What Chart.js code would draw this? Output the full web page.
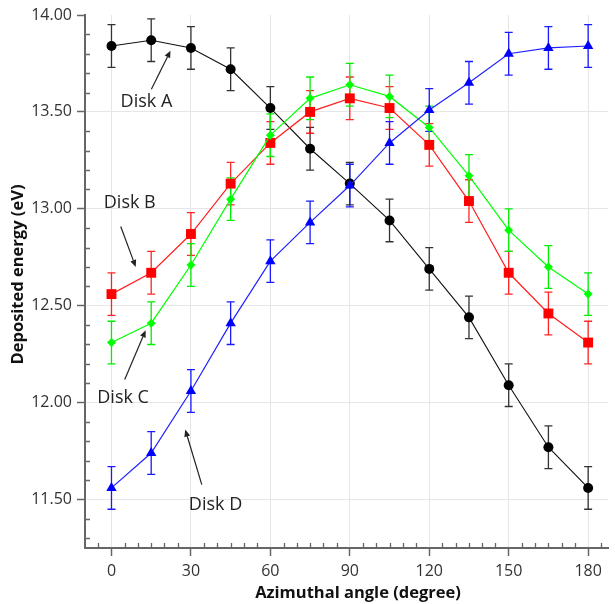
<!DOCTYPE html>
<html>
<head>
<meta charset="utf-8">
<script src="https://cdn.jsdelivr.net/npm/chart.js@4.4.1/dist/chart.umd.min.js"></script>
<style>
  html, body { margin: 0; padding: 0; background: #ffffff; }
  #wrap { width: 615px; height: 604px; }
</style>
</head>
<body>
<div id="wrap"><canvas id="c" width="615" height="604"></canvas></div>
<script>
// ---- data ----
const angles = [0, 15, 30, 45, 60, 75, 90, 105, 120, 135, 150, 165, 180];
const diskA = [13.84, 13.87, 13.83, 13.72, 13.52, 13.31, 13.13, 12.94, 12.69, 12.44, 12.09, 11.77, 11.56];
const diskB = [12.56, 12.67, 12.87, 13.13, 13.34, 13.50, 13.57, 13.52, 13.33, 13.04, 12.67, 12.46, 12.31];
const diskC = [12.31, 12.41, 12.71, 13.05, 13.38, 13.57, 13.64, 13.58, 13.42, 13.17, 12.89, 12.70, 12.56];
const diskD = [11.56, 11.74, 12.06, 12.41, 12.73, 12.93, 13.12, 13.34, 13.51, 13.65, 13.80, 13.83, 13.84];
const errA = [0.11, 0.11, 0.11, 0.11, 0.11, 0.11, 0.11, 0.11, 0.11, 0.11, 0.11, 0.11, 0.11];
const errB = [0.11, 0.11, 0.11, 0.11, 0.11, 0.11, 0.11, 0.11, 0.11, 0.11, 0.11, 0.11, 0.11];
const errC = [0.11, 0.11, 0.11, 0.11, 0.11, 0.11, 0.11, 0.11, 0.11, 0.11, 0.11, 0.11, 0.11];
const errD = [0.11, 0.11, 0.11, 0.11, 0.11, 0.11, 0.11, 0.11, 0.11, 0.11, 0.11, 0.11, 0.11];
const xTicks = [0, 30, 60, 90, 120, 150, 180];
const yTicks = [11.5, 12.0, 12.5, 13.0, 13.5, 14.0];
const seriesNames = ['Disk A', 'Disk B', 'Disk C', 'Disk D'];
const xTitle = 'Azimuthal angle (degree)';
const yTitle = 'Deposited energy (eV)';

// annotation labels (text centre and arrow, in data units)
const labelText = ['Disk A', 'Disk B', 'Disk C', 'Disk D'];
const labelAt = [[13.2, 13.553], [6.9, 13.031], [4.4, 12.026], [39.3, 11.471]];
const arrowFrom = [[15.05, 13.617], [3.5, 12.909], [5.0, 12.119], [34.1, 11.577]];
const arrowTo = [[22.3, 13.816], [9.15, 12.70], [12.9, 12.373], [27.85, 11.861]];

const FONT = "'Open Sans', 'DejaVu Sans', sans-serif";

function pts(vals) { return angles.map((a, i) => ({ x: a, y: vals[i] })); }

const errorBarPlugin = {
  id: 'errorBars',
  beforeDatasetsDraw(chart) {
    const ctx = chart.ctx;
    const xs = chart.scales.x, ys = chart.scales.y;
    chart.data.datasets.forEach((ds) => {
      const errs = ds.errors;
      ctx.save();
      ctx.strokeStyle = ds.errorColor;
      ctx.lineWidth = 1.3;
      ds.data.forEach((p, i) => {
        const px = xs.getPixelForValue(p.x);
        const top = ys.getPixelForValue(p.y + errs[i]);
        const bot = ys.getPixelForValue(p.y - errs[i]);
        const cw = 4;
        ctx.beginPath();
        ctx.moveTo(px, top); ctx.lineTo(px, bot);
        ctx.moveTo(px - cw, top); ctx.lineTo(px + cw, top);
        ctx.moveTo(px - cw, bot); ctx.lineTo(px + cw, bot);
        ctx.stroke();
      });
      ctx.restore();
    });
  }
};

const minorTickPlugin = {
  id: 'minorTicks',
  afterDraw(chart) {
    const ctx = chart.ctx;
    const xs = chart.scales.x, ys = chart.scales.y;
    const a = chart.chartArea;
    ctx.save();
    ctx.strokeStyle = '#666';
    ctx.lineWidth = 1.3;
    ctx.beginPath();
    for (let k = 113; k <= 140; k++) {
      if (k % 5 === 0) continue;
      const py = Math.round(ys.getPixelForValue(k / 10)) + 0.5;
      ctx.moveTo(a.left, py); ctx.lineTo(a.left + 5, py);
    }
    for (let v = -5; v <= 185; v += 5) {
      if (v % 30 === 0) continue;
      const px = Math.round(xs.getPixelForValue(v)) + 0.5;
      ctx.moveTo(px, a.bottom); ctx.lineTo(px, a.bottom - 5);
    }
    ctx.stroke();
    ctx.restore();
  }
};

const titlesPlugin = {
  id: 'axisTitles',
  afterDraw(chart) {
    const ctx = chart.ctx;
    const a = chart.chartArea;
    ctx.save();
    ctx.fillStyle = '#111';
    ctx.font = "bold 16.5px " + FONT;
    ctx.textAlign = 'center';
    ctx.textBaseline = 'middle';
    ctx.fillText(xTitle, 358, chart.height - 11);
    ctx.translate(18, (a.top + a.bottom) / 2 - 7);
    ctx.rotate(-Math.PI / 2);
    ctx.fillText(yTitle, 0, 0);
    ctx.restore();
  }
};

const annotationPlugin = {
  id: 'annotations',
  afterDraw(chart) {
    const ctx = chart.ctx;
    const xs = chart.scales.x, ys = chart.scales.y;
    ctx.save();
    ctx.fillStyle = '#222';
    ctx.strokeStyle = '#222';
    ctx.lineWidth = 1.2;
    ctx.font = "18px " + FONT;
    ctx.textAlign = 'center';
    ctx.textBaseline = 'middle';
    labelText.forEach((t, i) => {
      ctx.fillText(t, xs.getPixelForValue(labelAt[i][0]), ys.getPixelForValue(labelAt[i][1]));
      const x1 = xs.getPixelForValue(arrowFrom[i][0]), y1 = ys.getPixelForValue(arrowFrom[i][1]);
      const x2 = xs.getPixelForValue(arrowTo[i][0]), y2 = ys.getPixelForValue(arrowTo[i][1]);
      const ang = Math.atan2(y2 - y1, x2 - x1);
      const hl = 7, hw = 3;
      const bx = x2 - hl * Math.cos(ang), by = y2 - hl * Math.sin(ang);
      ctx.beginPath();
      ctx.moveTo(x1, y1); ctx.lineTo(bx, by);
      ctx.stroke();
      ctx.beginPath();
      ctx.moveTo(x2, y2);
      ctx.lineTo(bx + hw * Math.sin(ang), by - hw * Math.cos(ang));
      ctx.lineTo(bx - hw * Math.sin(ang), by + hw * Math.cos(ang));
      ctx.closePath();
      ctx.fill();
    });
    ctx.restore();
  }
};

new Chart(document.getElementById('c'), {
  type: 'line',
  data: {
    datasets: [
      { label: seriesNames[0], data: pts(diskA), errors: errA, errorColor: '#333333',
        borderColor: '#111111', backgroundColor: '#000000', borderWidth: 1.1,
        pointStyle: 'circle', pointRadius: 5, pointBorderWidth: 0, order: 3 },
      { label: seriesNames[1], data: pts(diskB), errors: errB, errorColor: 'rgba(255,0,0,0.85)',
        borderColor: '#ff2020', backgroundColor: '#ff0000', borderWidth: 1.2,
        pointStyle: 'rect', pointRadius: 7, pointBorderWidth: 0, order: 2 },
      { label: seriesNames[2], data: pts(diskC), errors: errC, errorColor: '#00ee00',
        borderColor: '#00ff00', backgroundColor: '#00ff00', borderWidth: 1.2,
        pointStyle: 'rectRot', pointRadius: 4.5, pointBorderWidth: 0, order: 1 },
      { label: seriesNames[3], data: pts(diskD), errors: errD, errorColor: '#1a1aff',
        borderColor: '#2020ff', backgroundColor: '#0000ff', borderWidth: 1.2,
        pointStyle: 'triangle', pointRadius: 6, pointBorderWidth: 0, order: 0 }
    ]
  },
  options: {
    responsive: false,
    animation: false,
    events: [],
    layout: { padding: { top: 15, right: 0, left: 0, bottom: 0 } },
    plugins: { legend: { display: false }, tooltip: { enabled: false } },
    scales: {
      x: {
        type: 'linear', min: -10, max: 187.5,
        afterBuildTicks: (s) => { s.ticks = xTicks.map(v => ({ value: v })); },
        afterFit: (s) => { s.height = 56; s.paddingLeft = 0; s.paddingRight = 0; },
        grid: { color: '#e6e6e6', lineWidth: 1, tickLength: 8, tickColor: '#666', tickWidth: 1.5 },
        border: { color: '#666', width: 2 },
        ticks: { color: '#333', font: { family: FONT, size: 16 }, padding: 6, maxRotation: 0 },
        title: { display: false }
      },
      y: {
        type: 'linear', min: 11.25, max: 14.0,
        afterBuildTicks: (s) => { s.ticks = yTicks.map(v => ({ value: v })); },
        afterFit: (s) => { s.width = 85; },
        grid: { color: (c) => (c.tick && c.tick.value >= 14 ? 'rgba(0,0,0,0)' : '#e6e6e6'),
                lineWidth: 1, tickLength: 8, tickColor: '#666', tickWidth: 1.5 },
        border: { color: '#666', width: 2 },
        ticks: { color: '#333', font: { family: FONT, size: 16 }, padding: 5,
                 callback: (v) => Number(v).toFixed(2) },
        title: { display: false }
      }
    }
  },
  plugins: [errorBarPlugin, minorTickPlugin, titlesPlugin, annotationPlugin]
});
</script>
</body>
</html>
